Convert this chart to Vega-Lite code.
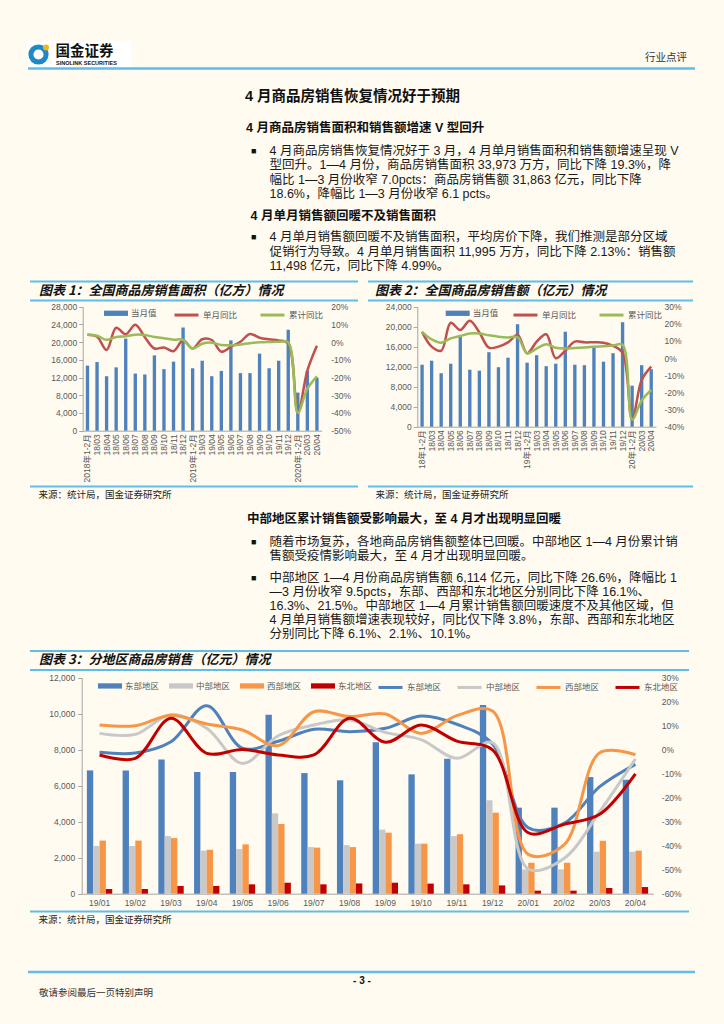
{
  "$schema": "https://vega.github.io/schema/vega-lite/v6.json",
  "width": 724,
  "height": 1024,
  "autosize": {"type": "none"},
  "padding": 0,
  "background": "#FFFBF0",
  "config": {
    "view": {"stroke": null},
    "font": "Liberation Sans, Noto Sans CJK SC",
    "text": {"font": "Liberation Sans, Noto Sans CJK SC", "baseline": "middle", "align": "left", "color": "#1A1A1A"},
    "axis": {"labelFont": "Liberation Sans, Noto Sans CJK SC", "labelFontSize": 8.5, "labelColor": "#595959", "domainColor": "#A6A6A6", "tickColor": "#A6A6A6", "grid": false, "domainWidth": 1, "tickSize": 4},
    "legend": {"labelFont": "Liberation Sans, Noto Sans CJK SC", "labelFontSize": 8.5, "labelColor": "#595959", "padding": 0, "labelOffset": 3}
  },
  "datasets": {
    "area": [
      {"m": "2018年1-2月", "当月值": 14700, "单月同比": 4.1, "累计同比": 4.1},
      {"m": "18/03", "当月值": 15500, "单月同比": 3.0, "累计同比": 3.6},
      {"m": "18/04", "当月值": 12300, "单月同比": -4.4, "累计同比": 1.3},
      {"m": "18/05", "当月值": 14300, "单月同比": 8.1, "累计同比": 2.9},
      {"m": "18/06", "当月值": 20800, "单月同比": 4.4, "累计同比": 3.3},
      {"m": "18/07", "当月值": 12900, "单月同比": 9.8, "累计同比": 4.2},
      {"m": "18/08", "当月值": 12700, "单月同比": 2.8, "累计同比": 4.0},
      {"m": "18/09", "当月值": 17000, "单月同比": -3.6, "累计同比": 2.9},
      {"m": "18/10", "当月值": 13900, "单月同比": -3.0, "累计同比": 2.2},
      {"m": "18/11", "当月值": 15600, "单月同比": -5.1, "累计同比": 1.4},
      {"m": "18/12", "当月值": 23300, "单月同比": 1.0, "累计同比": 1.3},
      {"m": "2019年1-2月", "当月值": 14100, "单月同比": -3.6, "累计同比": -3.6},
      {"m": "19/03", "当月值": 15800, "单月同比": 1.6, "累计同比": -0.9},
      {"m": "19/04", "当月值": 12300, "单月同比": 1.2, "累计同比": -0.3},
      {"m": "19/05", "当月值": 13500, "单月同比": -5.4, "累计同比": -1.6},
      {"m": "19/06", "当月值": 20400, "单月同比": -2.6, "累计同比": -1.8},
      {"m": "19/07", "当月值": 13000, "单月同比": 0.2, "累计同比": -1.3},
      {"m": "19/08", "当月值": 13000, "单月同比": 4.6, "累计同比": -0.6},
      {"m": "19/09", "当月值": 17400, "单月同比": 2.5, "累计同比": -0.1},
      {"m": "19/10", "当月值": 14100, "单月同比": 1.6, "累计同比": 0.1},
      {"m": "19/11", "当月值": 15800, "单月同比": 1.0, "累计同比": 0.2},
      {"m": "19/12", "当月值": 22800, "单月同比": -0.7, "累计同比": -0.1},
      {"m": "2020年1-2月", "当月值": 8600, "单月同比": -39.9, "累计同比": -39.9},
      {"m": "20/03", "当月值": 13500, "单月同比": -16.1, "累计同比": -26.3},
      {"m": "20/04", "当月值": 11995, "单月同比": -2.1, "累计同比": -19.3}
    ],
    "amount": [
      {"m": "18年1-2月", "当月值": 12400, "单月同比": 15.3, "累计同比": 15.3},
      {"m": "18/03", "当月值": 13200, "单月同比": 6.7, "累计同比": 10.9},
      {"m": "18/04", "当月值": 10700, "单月同比": 4.3, "累计同比": 9.0},
      {"m": "18/05", "当月值": 12600, "单月同比": 20.6, "累计同比": 11.5},
      {"m": "18/06", "当月值": 18200, "单月同比": 16.4, "累计同比": 12.9},
      {"m": "18/07", "当月值": 11400, "单月同比": 21.8, "累计同比": 14.3},
      {"m": "18/08", "当月值": 11200, "单月同比": 15.0, "累计同比": 14.3},
      {"m": "18/09", "当月值": 14900, "单月同比": 6.1, "累计同比": 13.3},
      {"m": "18/10", "当月值": 11900, "单月同比": 6.7, "累计同比": 12.5},
      {"m": "18/11", "当月值": 13800, "单月同比": 9.2, "累计同比": 12.1},
      {"m": "18/12", "当月值": 20500, "单月同比": 13.5, "累计同比": 12.2},
      {"m": "19年1-2月", "当月值": 12800, "单月同比": 2.8, "累计同比": 2.8},
      {"m": "19/03", "当月值": 14300, "单月同比": 9.6, "累计同比": 5.6},
      {"m": "19/04", "当月值": 12100, "单月同比": 13.9, "累计同比": 8.1},
      {"m": "19/05", "当月值": 12600, "单月同比": -0.1, "累计同比": 6.1},
      {"m": "19/06", "当月值": 19000, "单月同比": 4.3, "累计同比": 5.6},
      {"m": "19/07", "当月值": 12400, "单月同比": 9.6, "累计同比": 5.9},
      {"m": "19/08", "当月值": 12300, "单月同比": 9.2, "累计同比": 6.2},
      {"m": "19/09", "当月值": 16100, "单月同比": 9.2, "累计同比": 6.6},
      {"m": "19/10", "当月值": 13000, "单月同比": 9.0, "累计同比": 7.0},
      {"m": "19/11", "当月值": 14700, "单月同比": 7.1, "累计同比": 7.3},
      {"m": "19/12", "当月值": 20900, "单月同比": 3.2, "累计同比": 7.8},
      {"m": "20年1-2月", "当月值": 8200, "单月同比": -35.9, "累计同比": -35.9},
      {"m": "20/03", "当月值": 12300, "单月同比": -12.8, "累计同比": -24.7},
      {"m": "20/04", "当月值": 11498, "单月同比": -5.0, "累计同比": -18.6}
    ],
    "region": [
      {"月": "19/01", "区": "东部地区", "额": 6850, "增速": -1.1},
      {"月": "19/01", "区": "中部地区", "额": 2650, "增速": 6.8},
      {"月": "19/01", "区": "西部地区", "额": 2950, "增速": 10.3},
      {"月": "19/01", "区": "东北地区", "额": 260, "增速": -2.2},
      {"月": "19/02", "区": "东部地区", "额": 6850, "增速": -1.4},
      {"月": "19/02", "区": "中部地区", "额": 2650, "增速": 6.4},
      {"月": "19/02", "区": "西部地区", "额": 2950, "增速": 10.0},
      {"月": "19/02", "区": "东北地区", "额": 260, "增速": -3.6},
      {"月": "19/03", "区": "东部地区", "额": 7460, "增速": 3.3},
      {"月": "19/03", "区": "中部地区", "额": 3200, "增速": 14.6},
      {"月": "19/03", "区": "西部地区", "额": 3090, "增速": 14.4},
      {"月": "19/03", "区": "东北地区", "额": 430, "增速": 13.1},
      {"月": "19/04", "区": "东部地区", "额": 6760, "增速": 18.3},
      {"月": "19/04", "区": "中部地区", "额": 2390, "增速": 8.9},
      {"月": "19/04", "区": "西部地区", "额": 2440, "增速": 10.7},
      {"月": "19/04", "区": "东北地区", "额": 430, "增速": -1.5},
      {"月": "19/05", "区": "东部地区", "额": 6760, "增速": 0.6},
      {"月": "19/05", "区": "中部地区", "额": 2480, "增速": -5.7},
      {"月": "19/05", "区": "西部地区", "额": 2740, "增速": 8.2},
      {"月": "19/05", "区": "东北地区", "额": 520, "增速": 0.1},
      {"月": "19/06", "区": "东部地区", "额": 9940, "增速": 3.5},
      {"月": "19/06", "区": "中部地区", "额": 4460, "增速": 5.8},
      {"月": "19/06", "区": "西部地区", "额": 3870, "增速": 1.7},
      {"月": "19/06", "区": "东北地区", "额": 610, "增速": -2.2},
      {"月": "19/07", "区": "东部地区", "额": 6700, "增速": 8.5},
      {"月": "19/07", "区": "中部地区", "额": 2590, "增速": 10.3},
      {"月": "19/07", "区": "西部地区", "额": 2560, "增速": 15.8},
      {"月": "19/07", "区": "东北地区", "额": 520, "增速": -2.2},
      {"月": "19/08", "区": "东部地区", "额": 6300, "增速": 7.5},
      {"月": "19/08", "区": "中部地区", "额": 2700, "增速": 12.4},
      {"月": "19/08", "区": "西部地区", "额": 2590, "增速": 13.8},
      {"月": "19/08", "区": "东北地区", "额": 570, "增速": 13.1},
      {"月": "19/09", "区": "东部地区", "额": 8410, "增速": 8.9},
      {"月": "19/09", "区": "中部地区", "额": 3560, "增速": 7.2},
      {"月": "19/09", "区": "西部地区", "额": 3390, "增速": 14.9},
      {"月": "19/09", "区": "东北地区", "额": 610, "增速": 3.1},
      {"月": "19/10", "区": "东部地区", "额": 6630, "增速": 14.0},
      {"月": "19/10", "区": "中部地区", "额": 2780, "增速": 4.2},
      {"月": "19/10", "区": "西部地区", "额": 2780, "增速": 6.8},
      {"月": "19/10", "区": "东北地区", "额": 560, "增速": 10.3},
      {"月": "19/11", "区": "东部地区", "额": 7500, "增速": 10.6},
      {"月": "19/11", "区": "中部地区", "额": 3200, "增速": -3.6},
      {"月": "19/11", "区": "西部地区", "额": 3300, "增速": 14.2},
      {"月": "19/11", "区": "东北地区", "额": 520, "增速": 3.6},
      {"月": "19/12", "区": "东部地区", "额": 10480, "增速": 2.4},
      {"月": "19/12", "区": "中部地区", "额": 5190, "增速": 2.9},
      {"月": "19/12", "区": "西部地区", "额": 4500, "增速": 16.1},
      {"月": "19/12", "区": "东北地区", "额": 460, "增速": -0.1},
      {"月": "20/01", "区": "东部地区", "额": 4780, "增速": -32.5},
      {"月": "20/01", "区": "中部地区", "额": 1350, "增速": -49.7},
      {"月": "20/01", "区": "西部地区", "额": 1720, "增速": -43.6},
      {"月": "20/01", "区": "东北地区", "额": 170, "增速": -34.6},
      {"月": "20/02", "区": "东部地区", "额": 4780, "增速": -30.7},
      {"月": "20/02", "区": "中部地区", "额": 1350, "增速": -45.3},
      {"月": "20/02", "区": "西部地区", "额": 1720, "增速": -39.7},
      {"月": "20/02", "区": "东北地区", "额": 170, "增速": -31.1},
      {"月": "20/03", "区": "东部地区", "额": 6480, "增速": -15.4},
      {"月": "20/03", "区": "中部地区", "额": 2330, "增速": -25.8},
      {"月": "20/03", "区": "西部地区", "额": 2940, "增速": -1.3},
      {"月": "20/03", "区": "东北地区", "额": 320, "增速": -26.9},
      {"月": "20/04", "区": "东部地区", "额": 6330, "增速": -6.1},
      {"月": "20/04", "区": "中部地区", "额": 2330, "增速": -3.8},
      {"月": "20/04", "区": "西部地区", "额": 2390, "增速": -2.1},
      {"月": "20/04", "区": "东北地区", "额": 370, "增速": -10.1}
    ]
  },
  "resolve": {
    "scale": {"x": "independent", "y": "independent", "fill": "independent", "stroke": "independent"},
    "axis": {"x": "independent", "y": "independent"},
    "legend": {"fill": "independent", "stroke": "independent"}
  },
  "layer": [
    {
      "data": {"values": [{"logo": "国金证券"}]},
      "mark": {"type": "rect", "color": "#FFFFFF"},
      "encoding": {
        "x": {"datum": 0, "type": "quantitative", "scale": {"domain": [0, 1], "range": [27, 131]}, "axis": null},
        "x2": {"datum": 1},
        "y": {"datum": 0, "type": "quantitative", "scale": {"domain": [0, 1], "range": [41, 68]}, "axis": null},
        "y2": {"datum": 1}
      }
    },
    {
      "data": {"values": [{"logo": "ring"}]},
      "mark": {"type": "point", "shape": "circle", "filled": false, "strokeWidth": 5, "color": "#1E88C8", "size": 230, "opacity": 1},
      "encoding": {
        "x": {"datum": 0, "type": "quantitative", "scale": {"domain": [0, 1], "range": [38.5, 100]}, "axis": null},
        "y": {"datum": 0, "type": "quantitative", "scale": {"domain": [0, 1], "range": [54.5, 100]}, "axis": null}
      }
    },
    {
      "data": {"values": [{"logo": "dot"}]},
      "mark": {"type": "point", "shape": "circle", "filled": true, "color": "#F2B418", "size": 36, "opacity": 1},
      "encoding": {
        "x": {"datum": 0, "type": "quantitative", "scale": {"domain": [0, 1], "range": [46, 100]}, "axis": null},
        "y": {"datum": 0, "type": "quantitative", "scale": {"domain": [0, 1], "range": [47.5, 100]}, "axis": null}
      }
    },
    {
      "data": {"values": [{"text": "国金证券"}]},
      "mark": {"type": "text", "font": "Noto Sans CJK SC", "fontWeight": "bold", "fontSize": 14.5, "color": "#111111"},
      "encoding": {
        "text": {"field": "text"},
        "x": {"datum": 0, "type": "quantitative", "scale": {"domain": [0, 1], "range": [55.5, 100]}, "axis": null},
        "y": {"datum": 0, "type": "quantitative", "scale": {"domain": [0, 1], "range": [51.5, 100]}, "axis": null}
      }
    },
    {
      "data": {"values": [{"text": "SINOLINK SECURITIES"}]},
      "mark": {"type": "text", "fontWeight": "bold", "fontSize": 5.5, "color": "#111111"},
      "encoding": {
        "text": {"field": "text"},
        "x": {"datum": 0, "type": "quantitative", "scale": {"domain": [0, 1], "range": [56, 100]}, "axis": null},
        "y": {"datum": 0, "type": "quantitative", "scale": {"domain": [0, 1], "range": [62.5, 100]}, "axis": null}
      }
    },
    {
      "data": {"values": [{"text": "行业点评"}]},
      "mark": {"type": "text", "fontSize": 10.5, "color": "#333333"},
      "encoding": {
        "text": {"field": "text"},
        "x": {"datum": 0, "type": "quantitative", "scale": {"domain": [0, 1], "range": [645, 700]}, "axis": null},
        "y": {"datum": 0, "type": "quantitative", "scale": {"domain": [0, 1], "range": [58, 100]}, "axis": null}
      }
    },
    {
      "data": {"values": [{"edge": "header"}, {"edge": "footer"}]},
      "mark": {"type": "rule", "color": "#5FBDE9", "strokeWidth": 2.5},
      "encoding": {
        "x": {"datum": 0, "type": "quantitative", "scale": {"domain": [0, 1], "range": [28, 695]}, "axis": null},
        "x2": {"datum": 1},
        "y": {"field": "edge", "type": "nominal", "scale": {"type": "point", "domain": ["header", "footer"], "range": [68.5, 972], "padding": 0}, "axis": null}
      }
    },
    {
      "data": {"values": [
        {"start": 1, "end": 2, "level": 1}, {"start": 1, "end": 2, "level": 2}, {"start": 1, "end": 2, "level": 3},
        {"start": 3, "end": 5, "level": 1}, {"start": 3, "end": 5, "level": 2}, {"start": 3, "end": 5, "level": 3},
        {"start": 1, "end": 4, "level": 4}, {"start": 1, "end": 4, "level": 5}, {"start": 1, "end": 4, "level": 6}
      ]},
      "mark": {"type": "rule", "color": "#5FBDE9", "strokeWidth": 2},
      "encoding": {
        "x": {"field": "start", "type": "quantitative", "scale": {"domain": [1, 2, 3, 4, 5], "range": [30, 358, 368, 689, 693]}, "axis": null},
        "x2": {"field": "end"},
        "y": {"field": "level", "type": "quantitative", "scale": {"domain": [1, 2, 3, 4, 5, 6], "range": [281.5, 300.5, 486.5, 651, 670, 911.5]}, "axis": null}
      }
    },
    {
      "data": {"values": [{"text": "4 月商品房销售恢复情况好于预期"}]},
      "mark": {"type": "text", "fontWeight": "bold", "fontSize": 14.5, "color": "#111111"},
      "encoding": {
        "text": {"field": "text"},
        "x": {"datum": 0, "type": "quantitative", "scale": {"domain": [0, 1], "range": [245, 700]}, "axis": null},
        "y": {"datum": 0, "type": "quantitative", "scale": {"domain": [0, 1], "range": [97.3, 200]}, "axis": null}
      }
    },
    {
      "data": {"values": [
        {"h": 1, "text": "4 月商品房销售面积和销售额增速 V 型回升"},
        {"h": 2, "text": "4 月单月销售额回暖不及销售面积"},
        {"h": 3, "text": "中部地区累计销售额受影响最大，至 4 月才出现明显回暖"}
      ]},
      "mark": {"type": "text", "fontWeight": "bold", "fontSize": 12.5, "color": "#111111"},
      "encoding": {
        "text": {"field": "text"},
        "x": {"field": "h", "type": "quantitative", "scale": {"domain": [1, 2, 3], "range": [246, 250.5, 247]}, "axis": null},
        "y": {"field": "h", "type": "quantitative", "scale": {"domain": [1, 2, 3], "range": [128.3, 216, 519.3]}, "axis": null}
      }
    },
    {
      "data": {"values": [{"r": 1}, {"r": 5}, {"r": 8}, {"r": 10}]},
      "mark": {"type": "text", "fontSize": 9, "color": "#111111"},
      "encoding": {
        "text": {"value": "■"},
        "x": {"datum": 0, "type": "quantitative", "scale": {"domain": [0, 1], "range": [251, 700]}, "axis": null},
        "y": {"field": "r", "type": "quantitative", "scale": {"domain": [1, 4, 5, 7, 8, 9, 10, 14], "range": [151, 194.3, 237, 266.3, 541.5, 555.5, 578, 634]}, "axis": null}
      }
    },
    {
      "data": {"values": [
        {"r": 1, "text": "4 月商品房销售恢复情况好于 3 月，4 月单月销售面积和销售额增速呈现 V"},
        {"r": 2, "text": "型回升。1—4 月份，商品房销售面积 33,973 万方，同比下降 19.3%，降"},
        {"r": 3, "text": "幅比 1—3 月份收窄 7.0pcts：商品房销售额 31,863 亿元，同比下降"},
        {"r": 4, "text": "18.6%，降幅比 1—3 月份收窄 6.1 pcts。"},
        {"r": 5, "text": "4 月单月销售额回暖不及销售面积，平均房价下降，我们推测是部分区域"},
        {"r": 6, "text": "促销行为导致。4 月单月销售面积 11,995 万方，同比下降 2.13%：销售额"},
        {"r": 7, "text": "11,498 亿元，同比下降 4.99%。"},
        {"r": 8, "text": "随着市场复苏，各地商品房销售额整体已回暖。中部地区 1—4 月份累计销"},
        {"r": 9, "text": "售额受疫情影响最大，至 4 月才出现明显回暖。"},
        {"r": 10, "text": "中部地区 1—4 月份商品房销售额 6,114 亿元，同比下降 26.6%，降幅比 1"},
        {"r": 11, "text": "—3 月份收窄 9.5pcts，东部、西部和东北地区分别同比下降 16.1%、"},
        {"r": 12, "text": "16.3%、21.5%。中部地区 1—4 月累计销售额回暖速度不及其他区域，但"},
        {"r": 13, "text": "4 月单月销售额增速表现较好，同比仅下降 3.8%，东部、西部和东北地区"},
        {"r": 14, "text": "分别同比下降 6.1%、2.1%、10.1%。"}
      ]},
      "mark": {"type": "text", "fontSize": 12.5, "color": "#1A1A1A"},
      "encoding": {
        "text": {"field": "text"},
        "x": {"datum": 0, "type": "quantitative", "scale": {"domain": [0, 1], "range": [269.5, 700]}, "axis": null},
        "y": {"field": "r", "type": "quantitative", "scale": {"domain": [1, 4, 5, 7, 8, 9, 10, 14], "range": [151, 194.3, 237, 266.3, 541.5, 555.5, 578, 634]}, "axis": null}
      }
    },
    {
      "data": {"values": [
        {"col": 1, "band": 1, "text": "图表 1：全国商品房销售面积（亿方）情况"},
        {"col": 2, "band": 1, "text": "图表 2：全国商品房销售额（亿元）情况"},
        {"col": 1, "band": 2, "text": "图表 3：分地区商品房销售（亿元）情况"}
      ]},
      "mark": {"type": "text", "font": "Noto Sans CJK SC", "fontWeight": "bold", "fontStyle": "italic", "fontSize": 13, "color": "#111111"},
      "encoding": {
        "text": {"field": "text"},
        "x": {"field": "col", "type": "quantitative", "scale": {"domain": [1, 2], "range": [39, 375]}, "axis": null},
        "y": {"field": "band", "type": "quantitative", "scale": {"domain": [1, 2], "range": [290.5, 659.5]}, "axis": null}
      }
    },
    {
      "data": {"values": [
        {"col": 1, "band": 1, "text": "来源：统计局，国金证券研究所"},
        {"col": 2, "band": 1, "text": "来源：统计局，国金证券研究所"},
        {"col": 1, "band": 2, "text": "来源：统计局，国金证券研究所"}
      ]},
      "mark": {"type": "text", "font": "Noto Sans CJK SC", "fontSize": 9.5, "color": "#222222"},
      "encoding": {
        "text": {"field": "text"},
        "x": {"field": "col", "type": "quantitative", "scale": {"domain": [1, 2], "range": [38.5, 375.5]}, "axis": null},
        "y": {"field": "band", "type": "quantitative", "scale": {"domain": [1, 2], "range": [494.5, 920]}, "axis": null}
      }
    },
    {
      "data": {"values": [{"text": "- 3 -"}]},
      "mark": {"type": "text", "align": "center", "fontWeight": "bold", "fontSize": 10, "color": "#111111"},
      "encoding": {
        "text": {"field": "text"},
        "x": {"datum": 0, "type": "quantitative", "scale": {"domain": [0, 1], "range": [362, 700]}, "axis": null},
        "y": {"datum": 0, "type": "quantitative", "scale": {"domain": [0, 1], "range": [981, 1000]}, "axis": null}
      }
    },
    {
      "data": {"values": [{"text": "敬请参阅最后一页特别声明"}]},
      "mark": {"type": "text", "fontSize": 9.5, "color": "#333333"},
      "encoding": {
        "text": {"field": "text"},
        "x": {"datum": 0, "type": "quantitative", "scale": {"domain": [0, 1], "range": [39, 700]}, "axis": null},
        "y": {"datum": 0, "type": "quantitative", "scale": {"domain": [0, 1], "range": [993, 1010]}, "axis": null}
      }
    },
    {
      "data": {"name": "area"},
      "transform": [{"fold": ["当月值"], "as": ["series", "value"]}],
      "mark": {"type": "bar"},
      "encoding": {
        "x": {"field": "m", "type": "nominal", "sort": null,
          "scale": {"type": "band", "range": [82.7, 321.7], "paddingInner": 0.65, "paddingOuter": 0.325},
          "axis": {"orient": "bottom", "offset": -593.3, "title": null, "labelAngle": -90, "ticks": false, "labelPadding": 3}},
        "y": {"field": "value", "type": "quantitative",
          "scale": {"domain": [0, 28000], "range": [430.7, 306.7], "nice": false},
          "axis": {"orient": "left", "offset": -82.7, "title": null, "values": [0, 4000, 8000, 12000, 16000, 20000, 24000, 28000], "format": ",d", "labelPadding": 2}},
        "fill": {"field": "series", "type": "nominal", "scale": {"domain": ["当月值"], "range": ["#4F81BD"]},
          "legend": {"orient": "none", "legendX": 104, "legendY": 301.3, "direction": "horizontal", "title": null, "symbolType": "M-1,-0.22H1V0.22H-1Z", "symbolSize": 576, "symbolStrokeWidth": 0}}
      }
    },
    {
      "data": {"name": "area"},
      "transform": [{"fold": ["单月同比", "累计同比"], "as": ["series", "value"]}],
      "mark": {"type": "line", "interpolate": "catmull-rom", "strokeWidth": 2.5},
      "encoding": {
        "x": {"field": "m", "type": "nominal", "sort": null, "bandPosition": 0.5,
          "scale": {"type": "band", "range": [82.7, 321.7], "paddingInner": 0.65, "paddingOuter": 0.325}, "axis": null},
        "y": {"field": "value", "type": "quantitative",
          "scale": {"domain": [-50, 20], "range": [430.7, 306.7], "nice": false, "zero": false},
          "axis": {"orient": "right", "offset": -402.3, "title": null, "values": [-50, -40, -30, -20, -10, 0, 10, 20], "labelExpr": "datum.value + '%'", "domain": false, "ticks": false, "labelPadding": 9}},
        "stroke": {"field": "series", "type": "nominal", "scale": {"domain": ["单月同比", "累计同比"], "range": ["#C0504D", "#9BBB59"]},
          "legend": {"orient": "none", "legendX": 173, "legendY": 301.3, "direction": "horizontal", "title": null, "symbolType": "stroke", "symbolSize": 576, "symbolStrokeWidth": 3, "columnPadding": 16}}
      }
    },
    {
      "data": {"name": "amount"},
      "transform": [{"fold": ["当月值"], "as": ["series", "value"]}],
      "mark": {"type": "bar"},
      "encoding": {
        "x": {"field": "m", "type": "nominal", "sort": null,
          "scale": {"type": "band", "range": [417.3, 656], "paddingInner": 0.65, "paddingOuter": 0.325},
          "axis": {"orient": "bottom", "offset": -597.3, "title": null, "labelAngle": -90, "ticks": false, "labelPadding": 3}},
        "y": {"field": "value", "type": "quantitative",
          "scale": {"domain": [0, 24000], "range": [426.7, 306.7], "nice": false},
          "axis": {"orient": "left", "offset": -417.3, "title": null, "values": [0, 4000, 8000, 12000, 16000, 20000, 24000], "format": ",d", "labelPadding": 2}},
        "fill": {"field": "series", "type": "nominal", "scale": {"domain": ["当月值"], "range": ["#4F81BD"]},
          "legend": {"orient": "none", "legendX": 445.7, "legendY": 301.3, "direction": "horizontal", "title": null, "symbolType": "M-1,-0.22H1V0.22H-1Z", "symbolSize": 576, "symbolStrokeWidth": 0}}
      }
    },
    {
      "data": {"name": "amount"},
      "transform": [{"fold": ["单月同比", "累计同比"], "as": ["series", "value"]}],
      "mark": {"type": "line", "interpolate": "catmull-rom", "strokeWidth": 2.5},
      "encoding": {
        "x": {"field": "m", "type": "nominal", "sort": null, "bandPosition": 0.5,
          "scale": {"type": "band", "range": [417.3, 656], "paddingInner": 0.65, "paddingOuter": 0.325}, "axis": null},
        "y": {"field": "value", "type": "quantitative",
          "scale": {"domain": [-40, 30], "range": [426.7, 306.7], "nice": false, "zero": false},
          "axis": {"orient": "right", "offset": -68, "title": null, "values": [-40, -30, -20, -10, 0, 10, 20, 30], "labelExpr": "datum.value + '%'", "domain": false, "ticks": false, "labelPadding": 8}},
        "stroke": {"field": "series", "type": "nominal", "scale": {"domain": ["单月同比", "累计同比"], "range": ["#C0504D", "#9BBB59"]},
          "legend": {"orient": "none", "legendX": 512, "legendY": 301.3, "direction": "horizontal", "title": null, "symbolType": "stroke", "symbolSize": 576, "symbolStrokeWidth": 3, "columnPadding": 16}}
      }
    },
    {
      "data": {"name": "region"},
      "mark": {"type": "bar"},
      "encoding": {
        "x": {"field": "月", "type": "nominal", "sort": null,
          "scale": {"type": "band", "range": [81.7, 653.3], "paddingInner": 0.29, "paddingOuter": 0.145},
          "axis": {"orient": "bottom", "offset": -130.3, "title": null, "labelAngle": 0, "ticks": false, "labelPadding": 5}},
        "xOffset": {"field": "区", "type": "nominal", "sort": null, "scale": {"domain": ["东部地区", "中部地区", "西部地区", "东北地区"], "paddingInner": 0, "paddingOuter": 0}},
        "y": {"field": "额", "type": "quantitative",
          "scale": {"domain": [0, 12000], "range": [893.7, 677.7], "nice": false},
          "axis": {"orient": "left", "offset": -81.7, "title": null, "values": [0, 2000, 4000, 6000, 8000, 10000, 12000], "format": ",d", "labelPadding": 3}},
        "fill": {"field": "区", "type": "nominal", "scale": {"domain": ["东部地区", "中部地区", "西部地区", "东北地区"], "range": ["#4F81BD", "#C8C8C8", "#F79646", "#C00000"]},
          "legend": {"orient": "none", "legendX": 98, "legendY": 673.7, "direction": "horizontal", "title": null, "symbolType": "M-1,-0.22H1V0.22H-1Z", "symbolSize": 576, "symbolStrokeWidth": 0, "columnPadding": 9}}
      }
    },
    {
      "data": {"name": "region"},
      "mark": {"type": "line", "interpolate": "catmull-rom", "strokeWidth": 3},
      "encoding": {
        "x": {"field": "月", "type": "nominal", "sort": null, "bandPosition": 0.5,
          "scale": {"type": "band", "range": [81.7, 653.3], "paddingInner": 0.29, "paddingOuter": 0.145}, "axis": null},
        "y": {"field": "增速", "type": "quantitative",
          "scale": {"domain": [-60, 30], "range": [893.7, 677.7], "nice": false, "zero": false},
          "axis": {"orient": "right", "offset": -70.7, "title": null, "values": [-60, -50, -40, -30, -20, -10, 0, 10, 20, 30], "labelExpr": "datum.value + '%'", "domain": false, "ticks": false, "labelPadding": 8}},
        "stroke": {"field": "区", "type": "nominal", "scale": {"domain": ["东部地区", "中部地区", "西部地区", "东北地区"], "range": ["#4F81BD", "#C8C8C8", "#F79646", "#C00000"]},
          "legend": {"orient": "none", "legendX": 377, "legendY": 673.7, "direction": "horizontal", "title": null, "symbolType": "stroke", "symbolSize": 576, "symbolStrokeWidth": 3, "columnPadding": 9}}
      }
    }
  ]
}
